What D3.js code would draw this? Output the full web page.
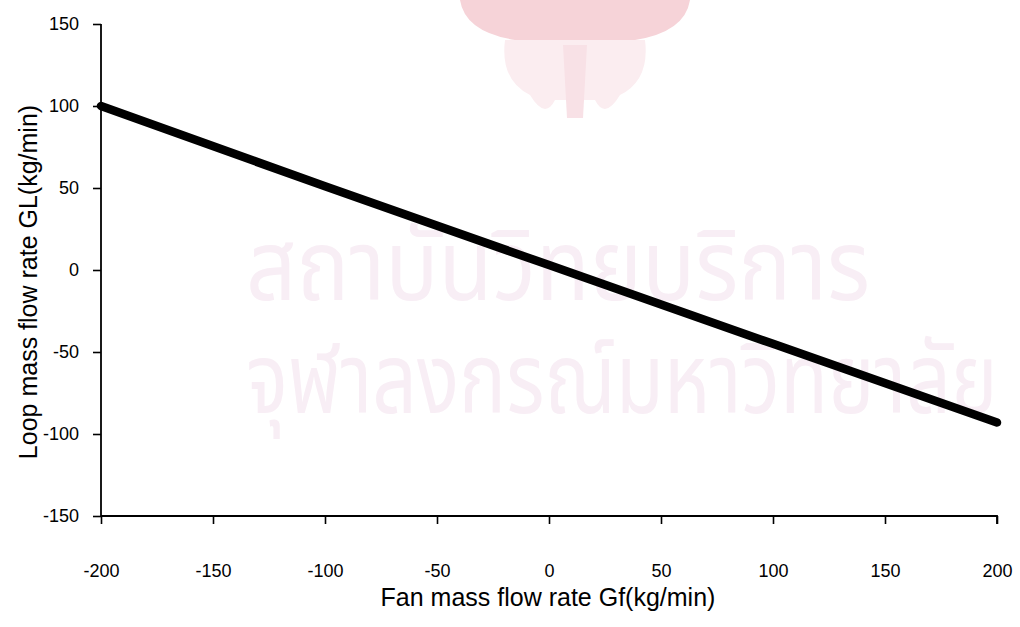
<!DOCTYPE html>
<html>
<head>
<meta charset="utf-8">
<script src="https://cdn.jsdelivr.net/npm/d3@7/dist/d3.min.js"></script>
<style>
  html, body { margin: 0; padding: 0; background: #fff; }
  svg { display: block; }
  text { font-family: Arial, "Liberation Sans", Helvetica, sans-serif; fill: #000; }
</style>
</head>
<body>
<svg id="chart" width="1020" height="627"></svg>
<script>
// Fan mass flow rate Gf (kg/min) and the resulting loop mass flow rate GL (kg/min)
const fanFlow  = [-200, -100, 0, 100, 200];
const loopFlow = [100, 51, 3, -45, -93];

const xTicks = [-200, -150, -100, -50, 0, 50, 100, 150, 200];
const yTicks = [150, 100, 50, 0, -50, -100, -150];

const xTitle = "Fan mass flow rate Gf(kg/min)";
const yTitle = "Loop mass flow rate GL(kg/min)";
const watermarkLines = ["สถาบันวิทยบริการ", "จุฬาลงกรณ์มหาวิทยาลัย"];

const svg = d3.select("#chart");

const x = d3.scaleLinear().domain([-200, 200]).range([101, 997]);
const y = d3.scaleLinear().domain([-150, 150]).range([516, 24]);

// plain hyphen for negative numbers
const fmt = d => String(d);

// pale library watermark behind the plot
const wm = svg.append("g").attr("class", "watermark");
const crest = wm.append("g").attr("transform", "translate(575,0)");
crest.append("path")
  .attr("d", "M-115,0 Q-110,32 -60,40 L60,40 Q110,32 115,0 Z")
  .attr("fill", "#f6d3d8");
crest.append("path")
  .attr("d", "M-70,40 Q-75,80 -45,95 Q-30,120 -20,100 L20,100 Q30,120 45,95 Q75,80 70,40 Z")
  .attr("fill", "#fbedf0");
crest.append("path")
  .attr("d", "M-12,45 L12,45 L8,118 L-8,118 Z")
  .attr("fill", "#f8e1e6");
wm.selectAll("text.wm")
  .data(watermarkLines)
  .join("text")
  .attr("class", "wm")
  .attr("transform", (d, i) => i === 0 ? "translate(558,300) scale(0.9,1)" : "translate(622,413) scale(0.8,1)")
  .attr("text-anchor", "middle")
  .style("font-family", "'Noto Sans Thai', 'Noto Sans', 'DejaVu Sans', sans-serif")
  .style("font-size", "98px")
  .style("fill", "#f8eef5")
  .text(d => d);

// axes
const xAxis = d3.axisBottom(x).tickValues(xTicks).tickSize(8).tickPadding(40).tickFormat(fmt);
const yAxis = d3.axisLeft(y).tickValues(yTicks).tickSize(8).tickPadding(14).tickFormat(fmt);

const gx = svg.append("g").attr("transform", `translate(0,${y(-150)})`).call(xAxis);
const gy = svg.append("g").attr("transform", `translate(${x(-200)},0)`).call(yAxis);

[gx, gy].forEach(g => {
  g.select(".domain").attr("stroke", "#000").attr("stroke-width", 1.8);
  g.selectAll(".tick line").attr("stroke", "#000").attr("stroke-width", 1.6);
  g.selectAll(".tick text").style("font-size", "18px").style("fill", "#000");
});
gx.select(".domain").attr("d", `M${x(-200)},0H${x(200)}V8`);
gy.select(".domain").attr("d", `M0,${y(150)}V${y(-150)}`);

// the data line
const line = d3.line().x((d, i) => x(fanFlow[i])).y(d => y(d));
svg.append("path")
  .datum(loopFlow)
  .attr("d", line)
  .attr("fill", "none")
  .attr("stroke", "#000")
  .attr("stroke-width", 8.5)
  .attr("stroke-linecap", "round");

// axis titles
svg.append("text")
  .attr("x", 548).attr("y", 606)
  .attr("text-anchor", "middle")
  .style("font-size", "25px")
  .text(xTitle);

svg.append("text")
  .attr("transform", "translate(37,282) rotate(-90)")
  .attr("text-anchor", "middle")
  .style("font-size", "25px")
  .text(yTitle);
</script>
</body>
</html>
